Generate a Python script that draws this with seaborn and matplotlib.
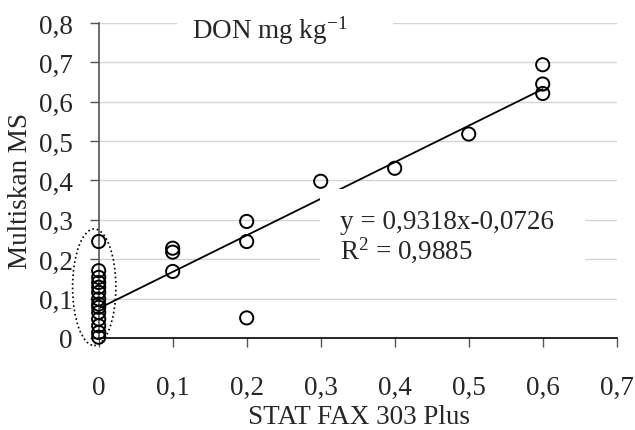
import matplotlib
matplotlib.use("Agg")
import matplotlib.pyplot as plt
from matplotlib.patches import Ellipse, Rectangle
import seaborn as sns

# values
stat_fax = [0, 0, 0, 0, 0, 0, 0, 0, 0, 0, 0, 0, 0, 0,
            0.1, 0.1, 0.1,
            0.2, 0.2, 0.2,
            0.3, 0.4, 0.5,
            0.6, 0.6, 0.6]
multiskan = [0.245, 0.171, 0.154, 0.141, 0.129, 0.116, 0.099, 0.086, 0.078, 0.065, 0.048, 0.031, 0.014, 0.002,
             0.228, 0.218, 0.169,
             0.296, 0.245, 0.051,
             0.398, 0.431, 0.518,
             0.694, 0.645, 0.621]
trend_x = [0, 0.6]
trend_y = [0.075, 0.632]

x_ticks = [0, 0.1, 0.2, 0.3, 0.4, 0.5, 0.6, 0.7]
x_labels = ['0', '0,1', '0,2', '0,3', '0,4', '0,5', '0,6', '0,7']
y_ticks = [0, 0.1, 0.2, 0.3, 0.4, 0.5, 0.6, 0.7, 0.8]
y_labels = ['0', '0,1', '0,2', '0,3', '0,4', '0,5', '0,6', '0,7', '0,8']

equation = 'y = 0,9318x-0,0726'
r_squared = r'R$^{2}$ = 0,9885'
title = r'DON mg kg$^{-1}$'

sns.set_style('white')
plt.rcParams['font.family'] = ['Liberation Serif', 'DejaVu Serif']
plt.rcParams['mathtext.fontset'] = 'custom'
plt.rcParams['mathtext.rm'] = 'Liberation Serif'
plt.rcParams['mathtext.it'] = 'Liberation Serif:italic'
fs = 19.5

fig = plt.figure(figsize=(6.35, 4.31), dpi=100)
ax = fig.add_axes([0.1554, 0.2135, 0.8158, 0.7308])

ax.set_xlim(0, 0.7)
ax.set_ylim(0, 0.8)
ax.set_xticks(x_ticks)
ax.set_xticklabels(x_labels, fontsize=fs)
ax.set_yticks(y_ticks)
ax.set_yticklabels(y_labels, fontsize=fs)
ax.yaxis.grid(True, color='#d4d4d4', lw=1)
ax.set_axisbelow(True)
for s in ['top', 'right']:
    ax.spines[s].set_visible(False)
ax.spines['left'].set_color('#555555')
ax.spines['bottom'].set_color('black')
ax.spines['left'].set_linewidth(1.2)
ax.spines['bottom'].set_linewidth(1.2)
ax.tick_params(axis='x', length=6.5, width=1, color='#555555', pad=20, direction='out', bottom=True)
ax.tick_params(axis='y', length=6.5, width=1, color='#555555', pad=12, direction='out', left=True)

sns.lineplot(x=trend_x, y=trend_y, color='black', lw=1.3, ax=ax, zorder=2)

# white boxes behind the labels
ax.add_patch(Rectangle((0.299, 0.175), 0.358, 0.203, fc='white', ec='none', zorder=3))
ax.add_patch(Rectangle((0.106, 0.76), 0.292, 0.07, fc='white', ec='none', zorder=3, clip_on=False))

sns.scatterplot(x=stat_fax, y=multiskan, ax=ax, s=90, marker='o', facecolor='none',
                edgecolor='black', linewidth=1.4, zorder=4, clip_on=False)

ax.add_patch(Ellipse((-0.006, 0.129), 0.0585, 0.296, fill=False, ec='black', ls=':',
                     lw=1.2, clip_on=False, zorder=5))

ax.text(0.326, 0.297, equation, fontsize=fs, ha='left', va='center', zorder=6)
ax.text(0.326, 0.226, r_squared, fontsize=fs, ha='left', va='center', zorder=6)
ax.text(0.2315, 0.784, title, fontsize=fs, ha='center', va='center', zorder=6)

fig.text(21 / 635, 1 - 191 / 431, 'Multiskan MS', rotation=90, fontsize=fs, ha='center', va='center')
fig.text(359 / 635, 1 - 418 / 431, 'STAT FAX 303 Plus', fontsize=fs, ha='center', va='center')

fig.savefig('out.png', dpi=100)
